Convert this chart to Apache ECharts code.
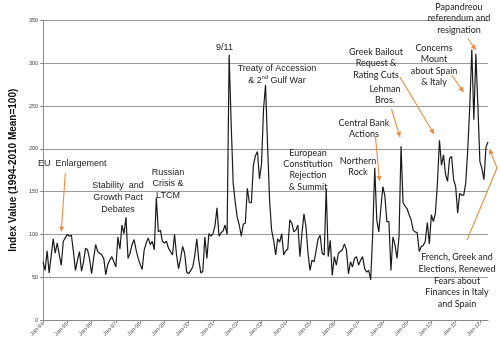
<!DOCTYPE html>
<html><head><meta charset="utf-8">
<script src="https://cdn.jsdelivr.net/npm/echarts@6/dist/echarts.min.js"></script>
<style>html,body{margin:0;padding:0;background:#fff}#c{width:500px;height:347px}</style>
</head><body><div id="c"></div>
<script>
// ---- data (monthly index, Jan-94 .. May-12) ----
const monthNames = ['Jan','Feb','Mar','Apr','May','Jun','Jul','Aug','Sep','Oct','Nov','Dec'];
const firstYear = 1994;
const monthCount = 221;

const idx1994_1997 = [
  68, 58, 81, 55, 75, 95, 78, 90, 76, 64, 92, 96,
  100, 98, 99, 80, 58, 70, 80, 57, 68, 84, 82, 71,
  54, 72, 88, 80, 78, 76, 72, 53, 65, 70, 74, 68,
  62, 97, 83, 111, 101, 120, 72, 78, 88, 94, 82, 72
];
const idx1998_2001 = [
  65, 59, 82, 90, 96, 88, 92, 82, 143, 103, 105, 92,
  90, 92, 84, 80, 76, 100, 76, 60, 72, 86, 78, 56,
  54, 58, 62, 75, 95, 70, 55, 57, 97, 72, 101, 98,
  101, 110, 131, 98, 102, 104, 111, 100, 310, 230, 160, 138
];
const idx2002_2005 = [
  120, 111, 98, 112, 113, 154, 137, 137, 181, 192, 197, 165,
  182, 246, 275, 205, 140, 105, 93, 76, 95, 91, 101, 76,
  81, 83, 117, 113, 103, 105, 111, 74, 101, 124, 109, 78,
  58, 70, 68, 81, 95, 99, 78, 76, 154, 74, 93, 52
];
const idx2006_2009 = [
  74, 64, 78, 80, 82, 89, 82, 54, 68, 62, 72, 74,
  64, 70, 74, 60, 56, 58, 47, 101, 178, 117, 103, 130,
  156, 145, 115, 115, 58, 97, 88, 72, 97, 203, 137, 133,
  130, 123, 117, 105, 103, 102, 80, 86, 87, 92, 114, 89
];
const idx2010_2012 = [
  123, 115, 125, 160, 210, 181, 193, 170, 162, 189, 191, 164,
  156, 125, 148, 146, 146, 160, 200, 250, 316, 234, 311, 250,
  185, 177, 164, 202, 208
];
const yMin = 0, yMax = 350, yStep = 50;

const categories = [];
for (let i = 0; i < monthCount; i++) {
  const y = firstYear + Math.floor(i / 12);
  categories.push(monthNames[i % 12] + '-' + String(y % 100).padStart(2, '0'));
}
const values = [].concat(idx1994_1997, idx1998_2001, idx2002_2005, idx2006_2009, idx2010_2012);

// ---- annotations (layout) ----
const ARIAL = '"Liberation Sans", Arial, sans-serif';
const CAL = 'Lato, "Open Sans", sans-serif';
const ORANGE = '#f08a3c';

function txt(text, x, y, font, size, lh, align, rich) {
  return {
    type: 'text', z: 100, silent: true,
    style: {
      text: text, x: x, y: y, fill: '#1a1a1a',
      fontFamily: font, fontSize: size, lineHeight: lh,
      align: align || 'center', verticalAlign: 'middle',
      textAlign: align || 'center', textVerticalAlign: 'middle',
      rich: rich
    }
  };
}
function arrow(pts) {
  const out = [{
    type: 'polyline', z: 99, silent: true,
    shape: { points: pts },
    style: { stroke: ORANGE, lineWidth: 1.1, fill: null }
  }];
  const a = pts[pts.length - 2], b = pts[pts.length - 1];
  const dx = b[0] - a[0], dy = b[1] - a[1];
  const L = Math.sqrt(dx * dx + dy * dy), ux = dx / L, uy = dy / L;
  const hl = 5, hw = 2.6;
  const bx = b[0] - ux * hl, by = b[1] - uy * hl;
  out.push({
    type: 'polygon', z: 99, silent: true,
    shape: { points: [[b[0], b[1]], [bx - uy * hw, by + ux * hw], [bx + uy * hw, by - ux * hw]] },
    style: { fill: ORANGE }
  });
  return out;
}

const graphics = [].concat(
  [
    txt('EU  Enlargement', 38, 164, ARIAL, 9, 11, 'left'),
    txt('Stability  and\nGrowth Pact\nDebates', 118, 197.6, ARIAL, 9, 11.8),
    txt('Russian\nCrisis &\nLTCM', 168, 183.7, ARIAL, 9, 11.4),
    txt('9/11', 224.5, 47.5, ARIAL, 9, 11),
    txt('Treaty of Accession\n& 2{sup|nd} Gulf War', 277, 74.2, ARIAL, 9, 11.7, 'center',
        { sup: { fontSize: 5.5, fontFamily: ARIAL, fill: '#1a1a1a', verticalAlign: 'top', lineHeight: 11.7 } }),
    txt('European\nConstitution\nRejection\n& Summit', 308, 169.7, CAL, 9, 11.3),
    txt('Northern\nRock', 358, 166.7, CAL, 9, 10.7),
    txt('Central Bank\nActions', 364, 128.3, CAL, 9, 11.3),
    txt('Lehman\nBros.', 385, 94.7, CAL, 9, 10.7),
    txt('Greek Bailout\nRequest &\nRating Cuts', 376, 63.3, CAL, 9, 11.7),
    txt('Concerns\nMount\nabout Spain\n& Italy', 434, 65, CAL, 9, 11.5),
    txt('Papandreou\nreferendum and\nresignation', 459, 18.3, CAL, 9, 11.7),
    txt('French, Greek and\nElections, Renewed\nFears about\nFinances in Italy\nand Spain', 457, 280.7, CAL, 9, 11.7)
  ],
  arrow([[65.3, 173], [61.3, 231.5]]),
  arrow([[375.5, 137], [379.5, 181]]),
  arrow([[391.5, 109], [400, 137]]),
  arrow([[400, 77], [434, 134]]),
  arrow([[451.7, 75], [463.5, 92]]),
  arrow([[467.7, 38], [475.7, 50]]),
  arrow([[467, 240], [497, 168], [489.5, 149]])
);

const chart = echarts.init(document.getElementById('c'), null, { renderer: 'canvas' });
chart.setOption({
  animation: false,
  backgroundColor: '#ffffff',
  grid: { left: 35.7, right: 12, top: 20.5, bottom: 27, containLabel: false },
  xAxis: {
    type: 'category', data: categories, boundaryGap: false,
    axisLine: { lineStyle: { color: '#8a8a8a', width: 1 } },
    axisTick: { show: true, interval: 11, length: 3, lineStyle: { color: '#8a8a8a' } },
    axisLabel: { interval: 11, rotate: 45, fontSize: 5.5, color: '#444', margin: 3, fontFamily: ARIAL },
    splitLine: { show: false }
  },
  yAxis: {
    type: 'value', min: yMin, max: yMax, interval: yStep,
    name: 'Index Value (1994-2010 Mean=100)',
    nameLocation: 'middle', nameRotate: 90, nameGap: 20,
    nameTextStyle: { fontSize: 10, fontWeight: 'bold', color: '#111', fontFamily: ARIAL },
    axisLine: { show: true, lineStyle: { color: '#8a8a8a', width: 1 } },
    axisTick: { show: true, length: 3, lineStyle: { color: '#8a8a8a' } },
    axisLabel: { fontSize: 5.5, color: '#444', margin: 5, fontFamily: ARIAL },
    splitLine: { lineStyle: { color: '#9a9a9a', width: 1 } }
  },
  series: [{
    type: 'line', data: values, showSymbol: false, symbol: 'none',
    lineStyle: { color: '#1a1a1a', width: 1.2 },
    z: 5
  }],
  graphic: graphics
});
</script>
</body></html>
